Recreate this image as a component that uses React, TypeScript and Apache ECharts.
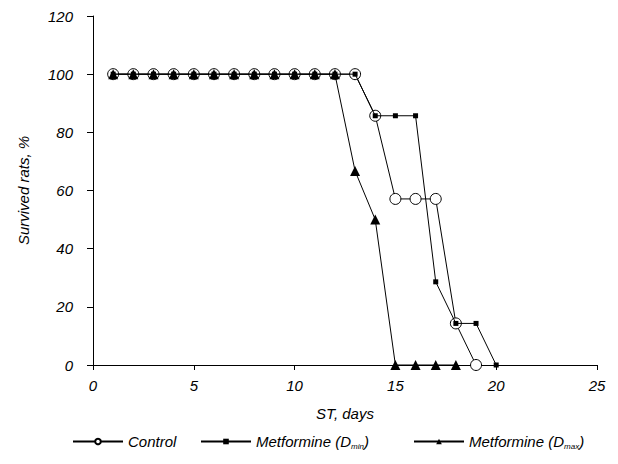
import React, { useEffect, useRef } from "react";
import * as echarts from "echarts";

const days = [1, 2, 3, 4, 5, 6, 7, 8, 9, 10, 11, 12, 13, 14, 15, 16, 17, 18, 19, 20];
const controlValues = [100, 100, 100, 100, 100, 100, 100, 100, 100, 100, 100, 100, 100, 85.7, 57.1, 57.1, 57.1, 14.3, 0];
const dminValues = [100, 100, 100, 100, 100, 100, 100, 100, 100, 100, 100, 100, 100, 85.7, 85.7, 85.7, 28.6, 14.3, 14.3, 0];
const dmaxValues = [100, 100, 100, 100, 100, 100, 100, 100, 100, 100, 100, 100, 66.7, 50, 0, 0, 0, 0];
const seriesNames = ["Control", "Metformine (D_min)", "Metformine (D_max)"];

const FONT = "'Liberation Sans', Arial, sans-serif";

function pairs(vals: number[]) {
  return vals.map((v, i) => [days[i], v]);
}

export default function App() {
  const ref = useRef<HTMLDivElement>(null);
  useEffect(() => {
    if (!ref.current) return;
    const chart = echarts.init(ref.current, undefined, { renderer: "svg" });
    const textStyle = {
      fontFamily: FONT,
      fontStyle: "italic" as const,
      fontSize: 15,
      color: "#000",
      rich: {
        sub: { fontFamily: FONT, fontStyle: "italic" as const, fontSize: 8, color: "#000", padding: [9, 0, 0, 0] },
      },
    };
    const fmt = (name: string) => {
      const m = name.match(/^(.*)\(D_(\w+)\)$/);
      if (m) return `${m[1]}(D{sub|${m[2]}})`;
      return name;
    };
    const legendBase = {
      orient: "horizontal" as const,
      top: 434,
      padding: 0,
      itemWidth: 50,
      itemHeight: 7,
      itemGap: 5,
      textStyle,
      formatter: fmt,
      selectedMode: false,
    };
    const axisFont = { fontFamily: FONT, fontStyle: "italic" as const, fontSize: 15, color: "#000" };
    chart.setOption({
      animation: false,
      backgroundColor: "#fff",
      grid: { left: 93, right: 21, top: 16, bottom: 99, containLabel: false },
      legend: [
        { ...legendBase, left: 72, data: [seriesNames[0]] },
        { ...legendBase, left: 200, data: [seriesNames[1]] },
        { ...legendBase, left: 413, data: [seriesNames[2]] },
      ],
      xAxis: {
        type: "value",
        min: 0,
        max: 25,
        interval: 5,
        name: "ST, days",
        nameLocation: "middle",
        nameGap: 41,
        nameTextStyle: axisFont,
        axisLine: { lineStyle: { color: "#000", width: 1 } },
        axisTick: { show: true, length: 5, lineStyle: { color: "#000" } },
        axisLabel: { ...axisFont, margin: 13 },
        splitLine: { show: false },
      },
      yAxis: {
        type: "value",
        min: 0,
        max: 120,
        interval: 20,
        name: "Survived rats, %",
        nameLocation: "middle",
        nameGap: 62,
        nameTextStyle: axisFont,
        axisLine: { show: true, lineStyle: { color: "#000", width: 1 } },
        axisTick: { show: true, length: 6, lineStyle: { color: "#000" } },
        axisLabel: { ...axisFont, margin: 20 },
        splitLine: { show: false },
      },
      series: [
        {
          name: seriesNames[0],
          type: "line",
          data: pairs(controlValues),
          symbol: "circle",
          symbolSize: 11,
          lineStyle: { color: "#000", width: 1 },
          itemStyle: { color: "#fff", borderColor: "#000", borderWidth: 1 },
          z: 2,
        },
        {
          name: seriesNames[1],
          type: "line",
          data: pairs(dminValues),
          symbol: "rect",
          symbolSize: 5,
          lineStyle: { color: "#000", width: 1 },
          itemStyle: { color: "#000" },
          z: 3,
        },
        {
          name: seriesNames[2],
          type: "line",
          data: pairs(dmaxValues),
          symbol: "triangle",
          symbolSize: 10,
          lineStyle: { color: "#000", width: 1 },
          itemStyle: { color: "#000" },
          z: 4,
        },
      ],
    });
    return () => chart.dispose();
  }, []);
  return <div ref={ref} style={{ width: 618, height: 464, margin: -8 }} />;
}
